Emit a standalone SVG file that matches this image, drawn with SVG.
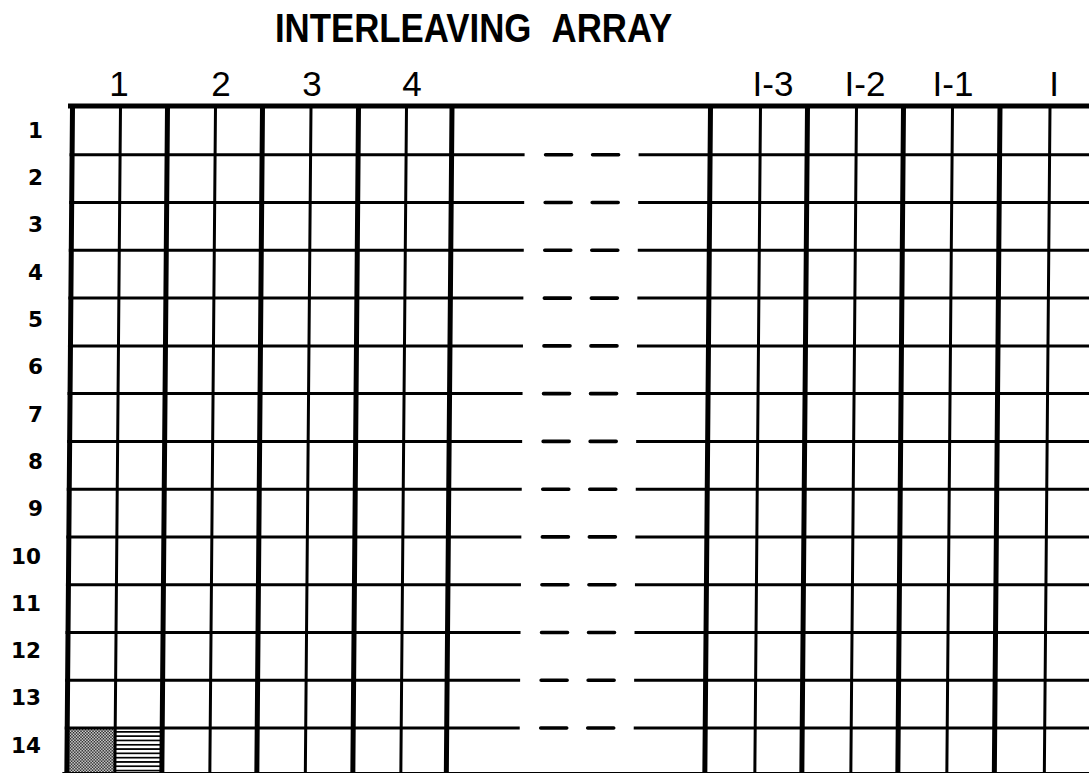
<svg xmlns="http://www.w3.org/2000/svg" width="1089" height="773" viewBox="0 0 1089 773">
  <style>
    .title { font-family: "Liberation Sans", Arial, sans-serif; font-weight: bold; font-size: 40px; fill: #000; }
    .col { font-family: "Liberation Sans", Arial, sans-serif; font-size: 35px; fill: #000; text-anchor: middle; }
    .row { font-family: "DejaVu Sans", "Liberation Sans", sans-serif; font-weight: bold; font-size: 21.5px; fill: #000; text-anchor: end; }
    .thick { stroke: #000; stroke-width: 5; fill: none; }
    .thin { stroke: #000; stroke-width: 3; fill: none; }
    .hline { stroke: #000; stroke-width: 3; fill: none; }
    .dash { stroke: #000; stroke-width: 3.6; stroke-linecap: round; fill: none; }
  </style>
  <defs>
    <pattern id="stipple" patternUnits="userSpaceOnUse" width="3" height="3">
      <rect width="3" height="3" fill="#fff"/>
      <rect x="0" y="0" width="1.5" height="1.5" fill="#000"/>
      <rect x="1.5" y="1.5" width="1.5" height="1.5" fill="#000"/>
    </pattern>
    <pattern id="stripes" patternUnits="userSpaceOnUse" width="8" height="4.3">
      <rect width="8" height="4.3" fill="#fff"/>
      <rect x="0" y="0" width="8" height="1.7" fill="#000"/>
    </pattern>
  </defs>
  <rect width="1089" height="773" fill="#fff"/>

  <g id="title" transform="scale(0.87,1)">
    <text class="title" y="42"><tspan x="316">INTERLEAVING</tspan><tspan x="634">ARRAY</tspan></text>
  </g>

  <g id="column-labels">
    <text class="col" x="119" y="96">1</text>
    <text class="col" x="221" y="96">2</text>
    <text class="col" x="312" y="96">3</text>
    <text class="col" x="412" y="96">4</text>
    <text class="col" x="773" y="96">I-3</text>
    <text class="col" x="865" y="96">I-2</text>
    <text class="col" x="953" y="96">I-1</text>
    <text class="col" x="1054" y="96">I</text>
  </g>

  <g id="row-labels">
    <text class="row" x="43" y="137.8">1</text>
    <text class="row" x="43" y="185.1">2</text>
    <text class="row" x="43" y="232.4">3</text>
    <text class="row" x="43" y="279.7">4</text>
    <text class="row" x="43" y="327.0">5</text>
    <text class="row" x="43" y="374.3">6</text>
    <text class="row" x="43" y="421.6">7</text>
    <text class="row" x="43" y="468.9">8</text>
    <text class="row" x="43" y="516.2">9</text>
    <text class="row" x="41" y="563.5">10</text>
    <text class="row" x="41" y="610.8">11</text>
    <text class="row" x="41" y="658.1">12</text>
    <text class="row" x="41" y="705.4">13</text>
    <text class="row" x="41" y="752.7">14</text>
  </g>

  <g id="grid" transform="translate(0.91,0) skewX(-0.487)">
    <g id="shaded-cells">
      <rect x="72.5" y="728" width="48" height="50" fill="url(#stipple)"/>
      <rect x="120.5" y="728" width="47" height="50" fill="url(#stripes)"/>
    </g>
    <g id="row-lines">
      <path class="thick" d="M68 106 H1100 M68 774.5 H1100"/>
      <path class="hline" d="M70 154.8 H525 M639 154.8 H1100 M70 202.5 H525 M639 202.5 H1100 M70 250.3 H525 M639 250.3 H1100 M70 298.1 H525 M639 298.1 H1100 M70 345.9 H525 M639 345.9 H1100 M70 393.6 H525 M639 393.6 H1100 M70 441.4 H525 M639 441.4 H1100 M70 489.2 H525 M639 489.2 H1100 M70 536.9 H525 M639 536.9 H1100 M70 584.7 H525 M639 584.7 H1100 M70 632.5 H525 M639 632.5 H1100 M70 680.2 H525 M639 680.2 H1100 M70 728 H525 M639 728 H1100"/>
      <path class="dash" d="M546 154.8 H572 M593 154.8 H619 M546 202.5 H572 M593 202.5 H619 M546 250.3 H572 M593 250.3 H619 M546 298.1 H572 M593 298.1 H619 M546 345.9 H572 M593 345.9 H619 M546 393.6 H572 M593 393.6 H619 M546 441.4 H572 M593 441.4 H619 M546 489.2 H572 M593 489.2 H619 M546 536.9 H572 M593 536.9 H619 M546 584.7 H572 M593 584.7 H619 M546 632.5 H572 M593 632.5 H619 M546 680.2 H572 M593 680.2 H619 M546 728 H572 M593 728 H619"/>
    </g>
    <g id="column-lines">
      <path class="thick" d="M72.5 104 V780 M167.5 104 V780 M262.5 104 V780 M358.5 104 V780 M452 104 V780 M710.5 104 V780 M807.5 104 V780 M903.5 104 V780 M1000 104 V780"/>
      <path class="thin" d="M120.5 104 V780 M215.5 104 V780 M311 104 V780 M406.5 104 V780 M760.5 104 V780 M856.5 104 V780 M952.5 104 V780 M1050 104 V780"/>
    </g>
  </g>
</svg>
